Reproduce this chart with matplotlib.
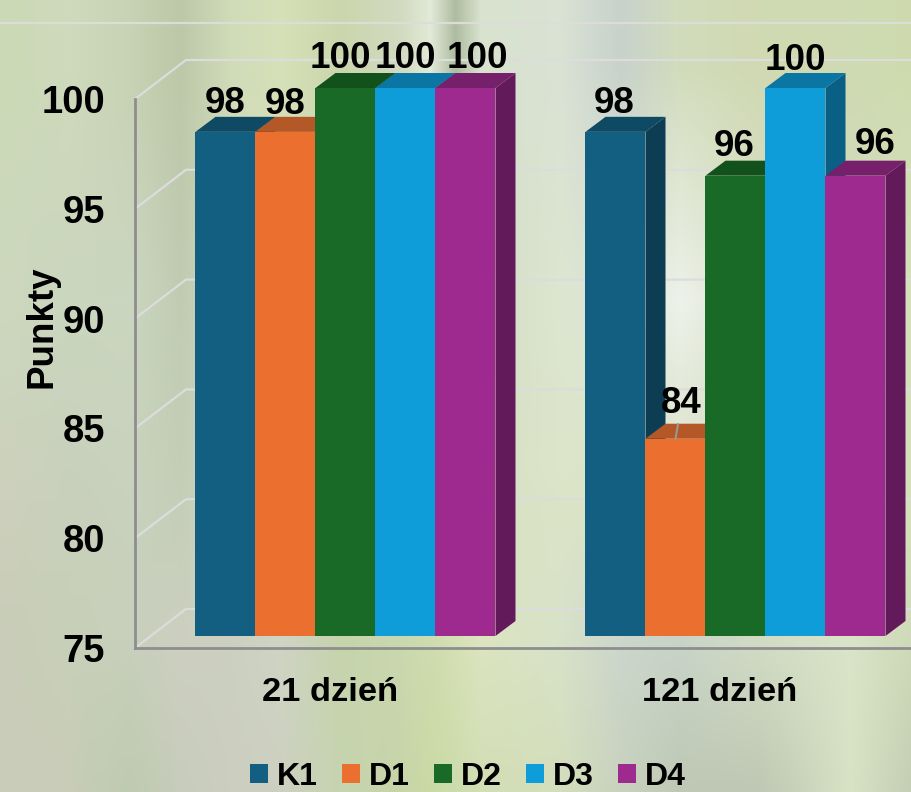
import numpy as np
import matplotlib
matplotlib.use('Agg')
import matplotlib.pyplot as plt
from matplotlib.colors import to_rgb
from matplotlib.patches import Patch, Polygon

plt.rcParams['font.family'] = ['Liberation Sans', 'DejaVu Sans']
plt.rcParams['font.weight'] = 'bold'

days = ['21 dzień', '121 dzień']
series = ['K1', 'D1', 'D2', 'D3', 'D4']
values = [[98, 98, 100, 100, 100],
          [98, 84, 96, 100, 96]]
yticks = [75, 80, 85, 90, 95, 100]

front = ['#135F82', '#EB7030', '#186A26', '#0E9DD8', '#9E2A90']
top = ['#0F4A64', '#B35826', '#12501C', '#0B76A3', '#76206C']
side = ['#0D3D52', '#8E4620', '#0F4016', '#095F84', '#631A5A']

# hand moved data labels in the original, pixels from bar centre / top
label_dx = [[0, 0, -5, 0, 12], [-1, 6, -1, 0, 20]]
label_dy = [[28, 27, 29, 29, 29], [28, 35, 29, 27, 31]]

# background colours, sampled by eye
bg_x = [0, 70, 130, 180, 230, 280, 340, 400, 430, 455, 480, 560, 620, 680, 760, 850, 912]
bg_y = [0, 70, 300, 500, 640, 790]
bg_top = ['#CBDAB6', '#CFD9BC', '#C8D2B4', '#BCC8A8', '#D0DBB8', '#D6E1B8', '#CBD6AC', '#D2DAC0', '#E2EAD8',
          '#AEBCA0', '#D8E2CE', '#DAE2D4', '#C8D2CC', '#D2DCBC', '#D0D9B2', '#CFDAB2', '#CEDBAE']
bg_300 = ['#CDD8BE', '#CAD6BE', '#CBD6C0', '#C0CCB2', '#D0D8C0', '#D0D8C0', '#D0D8C0', '#D0D8C0', '#D0D8C0',
          '#D0D8C0', '#D4DCC4', '#DDE6D0', '#DCE6D8', '#EEF2EA', '#DADFCC', '#D4DCC4', '#D6E0BC']
bg_500 = ['#CDD0BC', '#C8D0BC', '#C8D2BC', '#C4CEB8', '#D0D8C0', '#D0D8C0', '#D0D8C0', '#D0D8C0', '#D0D8C0',
          '#D0D8C0', '#D8E0C4', '#DCE4C8', '#DCE4C4', '#D8E0C6', '#D6DEC4', '#D4DCC0', '#D6E0BC']
bg_640 = ['#C8CCB8', '#C8D0B8', '#C8CFBC', '#CDD0C0', '#CCD0C0', '#D0D4C4', '#C6D4AC', '#CAD8B0', '#CEDCAE',
          '#D6E0B4', '#DCE4C0', '#D8E2C8', '#CCD6CC', '#C8D4C8', '#D2DCC4', '#DAE4C8', '#CEDAB8']
bg_790 = ['#C8CCB8', '#C8CCB8', '#BECBB0', '#C8CCBC', '#CCCFC0', '#CDD0C0', '#C6D4B0', '#C8D4A8', '#CADAA6',
          '#CCDCAC', '#D2DEB4', '#D4DEBC', '#C8D2BE', '#BEC8B4', '#BEC8B4', '#D8E2C4', '#C4CEB4']
bg_rows = [bg_top, bg_top, bg_300, bg_500, bg_640, bg_790]

W, H = 912, 792
fig = plt.figure(figsize=(W / 100, H / 100), dpi=100)


def px_axes(left, right, bottom, upper):
    return fig.add_axes([left / W, (H - bottom) / H, (right - left) / W, (bottom - upper) / H])


# background
bg = fig.add_axes([0, 0, 1, 1])
rows = np.array([[to_rgb(c) for c in row] for row in bg_rows])
xs, ys = np.arange(W), np.arange(H)
by_x = np.stack([[np.interp(xs, bg_x, rows[r, :, c]) for c in range(3)] for r in range(len(bg_y))])
img = np.stack([[np.interp(ys, bg_y, by_x[:, c, i]) for i in range(W)] for c in range(3)], axis=-1)
bg.imshow(img.transpose(1, 0, 2), extent=(0, W, H, 0), aspect='auto')
bg.plot([0, W], [23, 23], color='#DDDDD8', lw=1.6)
bg.set_xlim(0, W)
bg.set_ylim(H, 0)
bg.axis('off')

# axis plane, with the side wall and back wall lines
ax = px_axes(135, W, 648, 99)
ax.patch.set_alpha(0)
ax.set_xlim(-0.5, (W - 330) / 390)
ax.set_ylim(75, 100)
wall_dx, wall_dy = 51 / 390, 39 / (549 / 25)
x0, x1 = ax.get_xlim()
for v in yticks:
    ax.plot([x0, x0 + wall_dx, x1], [v, v + wall_dy, v + wall_dy], color='#DCDCDC', lw=1.6, clip_on=False)
ax.set_yticks(yticks)
ax.set_xticks([0, 1])
ax.set_xticklabels(days, fontsize=24.8)
ax.tick_params(axis='y', length=0, labelsize=27.5, pad=21.5)
ax.tick_params(axis='x', length=0, pad=20.7)
for s in ['top', 'right']:
    ax.spines[s].set_visible(False)
for s in ['left', 'bottom']:
    ax.spines[s].set_color('#8E8E8E')
    ax.spines[s].set_linewidth(2)

fig.text(42 / W, (H - 327) / H, 'Punkty', rotation=90, ha='center', va='center', fontsize=26.5)

# bars, front plane sits forward of the axis plane
bx = px_axes(135, W, 636, 88)
bx.patch.set_alpha(0)
bx.set_xlim(-(345.5 - 135) / 390, (W - 345.5) / 390)
bx.set_ylim(75, 100)
bx.axis('off')
bar_w = 60 / 390
dx, dy = 20 / 390, 15 / (548 / 25)

for g, group in enumerate(values):
    for i, v in enumerate(group):
        left = g + (i - 2.5) * bar_w
        right = left + bar_w
        bx.add_patch(Polygon([(right, 75), (right + dx, 75 + dy), (right + dx, v + dy), (right, v)],
                             facecolor=side[i], edgecolor='none', clip_on=False))
        bx.add_patch(Polygon([(left, v), (left + dx, v + dy), (right + dx, v + dy), (right, v)],
                             facecolor=top[i], edgecolor='none', clip_on=False))
        bx.bar(left, v - 75, bar_w, bottom=75, align='edge', color=front[i], clip_on=False)

for g, group in enumerate(values):
    for i, v in enumerate(group):
        arrow = None
        if v < 90:
            arrow = dict(arrowstyle='-', color='#9A9A9A', lw=1.4, shrinkA=0, shrinkB=0)
        bx.annotate(str(v), (g + (i - 2) * bar_w, v), xytext=(label_dx[g][i], label_dy[g][i]),
                    textcoords='offset pixels', ha='center', va='center', fontsize=26.5,
                    arrowprops=arrow, annotation_clip=False)

handles = [Patch(facecolor=c, edgecolor='none', label=s) for c, s in zip(front, series)]
fig.legend(handles=handles, loc='lower left', bbox_to_anchor=(250 / W, 0), ncol=5, frameon=False,
           fontsize=23, handlelength=0.56, handleheight=0.56, handletextpad=0.28, columnspacing=0.76,
           borderpad=0, borderaxespad=0)

fig.savefig('out.png', dpi=100)
